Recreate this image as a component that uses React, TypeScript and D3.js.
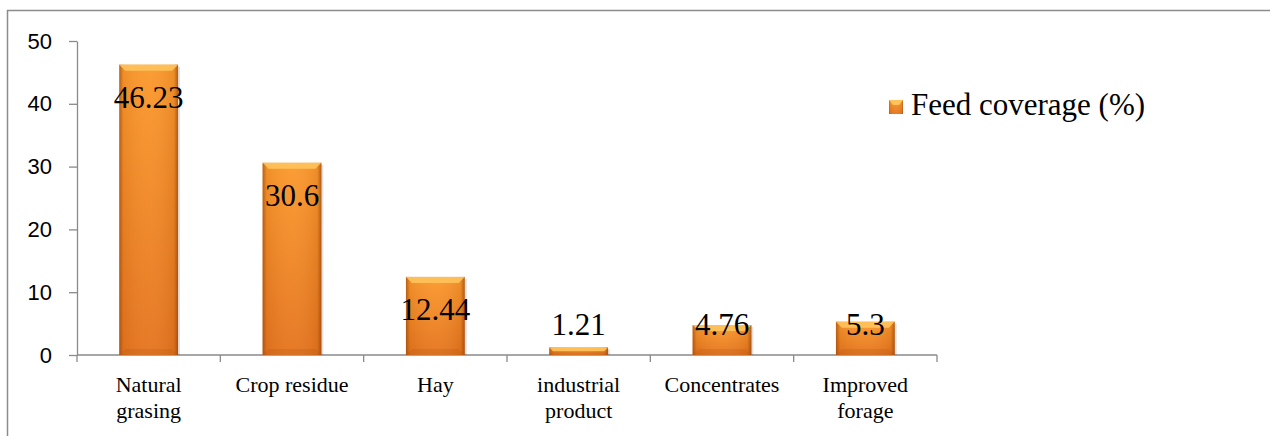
import React, { useEffect, useRef } from "react";
import * as d3 from "d3";

const categories = ["Natural grasing", "Crop residue", "Hay", "industrial product", "Concentrates", "Improved forage"];
const categoryLines = [["Natural", "grasing"], ["Crop residue"], ["Hay"], ["industrial", "product"], ["Concentrates"], ["Improved", "forage"]];
const coverage = [46.23, 30.6, 12.44, 1.21, 4.76, 5.3];
const yTicks = [0, 10, 20, 30, 40, 50];
const seriesName = "Feed coverage (%)";

const App = () => {
  const svgRef = useRef<SVGSVGElement | null>(null);

  useEffect(() => {
    const width = 1270;
    const height = 436;
    const svg = d3.select(svgRef.current)
      .attr("width", width)
      .attr("height", height);

    // remove old element before rebuild
    svg.selectAll("*").remove();

    const margin = { left: 77, top: 41, right: 333, bottom: 81 };
    const serif = "'Liberation Serif', 'Times New Roman', serif";
    const sans = "'Liberation Sans', Arial, sans-serif";
    const axisColor = "#8a8a8a";

    const defs = svg.append("defs");
    const body = defs.append("linearGradient").attr("id", "barBody")
      .attr("x1", 0).attr("y1", 0).attr("x2", 0).attr("y2", 1);
    body.append("stop").attr("offset", "0%").attr("stop-color", "#fb992c");
    body.append("stop").attr("offset", "100%").attr("stop-color", "#e5741e");
    const sides = defs.append("linearGradient").attr("id", "barSides")
      .attr("x1", 0).attr("y1", 0).attr("x2", 1).attr("y2", 0);
    sides.append("stop").attr("offset", "0%").attr("stop-color", "#8a3c08").attr("stop-opacity", 0.6);
    sides.append("stop").attr("offset", "7%").attr("stop-color", "#8a3c08").attr("stop-opacity", 0.1);
    sides.append("stop").attr("offset", "50%").attr("stop-color", "#ffffff").attr("stop-opacity", 0.04);
    sides.append("stop").attr("offset", "93%").attr("stop-color", "#8a3c08").attr("stop-opacity", 0.12);
    sides.append("stop").attr("offset", "100%").attr("stop-color", "#8a3c08").attr("stop-opacity", 0.65);

    // outer frame
    svg.append("rect")
      .attr("x", 7.5).attr("y", 10.5)
      .attr("width", 1300).attr("height", 460)
      .attr("fill", "none").attr("stroke", "#8c8c8c").attr("stroke-width", 1.5);

    const xScale = d3.scaleBand<string>()
      .domain(categories)
      .range([margin.left, width - margin.right])
      .padding(0);

    const yScale = d3.scaleLinear()
      .domain([0, 50])
      .range([height - margin.bottom, margin.top]);

    const y0 = yScale(0);

    // y axis
    const yAxis = svg.append("g")
      .attr("transform", `translate(${margin.left},0)`)
      .call(d3.axisLeft(yScale).tickValues(yTicks).tickSize(8).tickPadding(17).tickSizeOuter(0));
    yAxis.select(".domain").attr("stroke", axisColor).attr("stroke-width", 1.3);
    yAxis.selectAll(".tick line").attr("stroke", axisColor).attr("stroke-width", 1.3);
    yAxis.selectAll("text")
      .attr("fill", "#000")
      .style("font-family", sans)
      .style("font-size", "22px");

    // x axis
    const xAxisG = svg.append("g").attr("transform", `translate(0,${y0})`);
    xAxisG.append("line")
      .attr("x1", margin.left).attr("x2", width - margin.right)
      .attr("stroke", axisColor).attr("stroke-width", 1.3);
    const edges = categories.map((c) => xScale(c) as number).concat([width - margin.right]);
    xAxisG.selectAll("line.tick").data(edges).enter().append("line")
      .attr("class", "tick")
      .attr("x1", (d) => d).attr("x2", (d) => d)
      .attr("y1", 0).attr("y2", 7)
      .attr("stroke", axisColor).attr("stroke-width", 1.3);

    categories.forEach((c, i) => {
      const cx = (xScale(c) as number) + xScale.bandwidth() / 2;
      const t = svg.append("text")
        .attr("x", cx)
        .attr("y", y0 + 37)
        .attr("text-anchor", "middle")
        .attr("font-family", serif)
        .attr("font-size", 22)
        .attr("fill", "#000");
      categoryLines[i].forEach((line, j) => {
        t.append("tspan").attr("x", cx).attr("dy", j === 0 ? 0 : 26).text(line);
      });
    });

    // bars
    const barW = xScale.bandwidth() * 0.41;
    categories.forEach((c, i) => {
      const v = coverage[i];
      const bx = (xScale(c) as number) + (xScale.bandwidth() - barW) / 2;
      const by = yScale(v);
      const bh = y0 - by;
      const g = svg.append("g");
      // shadow
      g.append("rect")
        .attr("x", bx + 2).attr("y", by + 2).attr("width", barW).attr("height", bh - 2)
        .attr("fill", "#000").attr("opacity", 0.12);
      g.append("rect")
        .attr("x", bx).attr("y", by).attr("width", barW).attr("height", bh)
        .attr("fill", "url(#barBody)");
      g.append("rect")
        .attr("x", bx).attr("y", by).attr("width", barW).attr("height", bh)
        .attr("fill", "url(#barSides)");
      // top bevel
      const bev = Math.min(6, bh / 2);
      g.append("path")
        .attr("d", `M${bx},${by}L${bx + barW},${by}L${bx + barW - bev},${by + bev}L${bx + bev},${by + bev}Z`)
        .attr("fill", "#ffc35c").attr("opacity", 0.9);
      // bottom bevel
      g.append("path")
        .attr("d", `M${bx},${y0}L${bx + barW},${y0}L${bx + barW - bev},${y0 - bev}L${bx + bev},${y0 - bev}Z`)
        .attr("fill", "#a8520f").attr("opacity", 0.2);

      // data label
      const ly = Math.min(by + 43, y0 - 20);
      svg.append("text")
        .attr("x", bx + barW / 2)
        .attr("y", ly)
        .attr("text-anchor", "middle")
        .attr("font-family", serif)
        .attr("font-size", 31)
        .attr("fill", "#000")
        .text(String(v));
    });

    // legend
    const lg = svg.append("g").attr("transform", "translate(889,100)");
    lg.append("rect").attr("width", 14).attr("height", 14).attr("fill", "url(#barBody)");
    lg.append("rect").attr("width", 14).attr("height", 14).attr("fill", "url(#barSides)");
    lg.append("path").attr("d", "M0,0L14,0L10,5L4,5Z").attr("fill", "#ffc35c");
    lg.append("text")
      .attr("x", 22).attr("y", 15)
      .attr("font-family", serif)
      .attr("font-size", 31)
      .attr("fill", "#000")
      .text(seriesName);
  }, []);

  return (
    <svg ref={svgRef} style={{ position: "absolute", left: 0, top: 0, background: "#fff" }} />
  );
};

export default App;
